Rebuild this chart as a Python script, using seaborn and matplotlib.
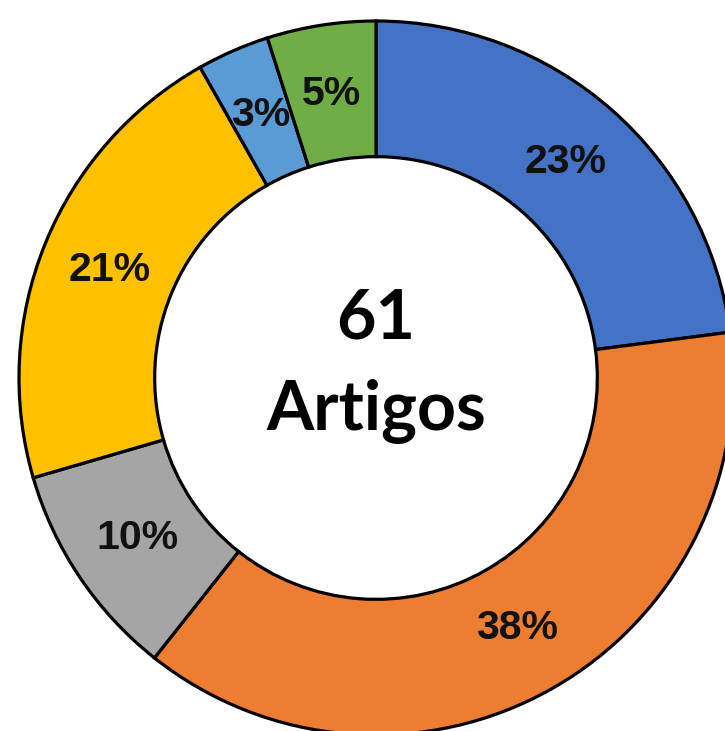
import matplotlib
matplotlib.use("Agg")
import matplotlib.pyplot as plt
import seaborn as sns

# article counts per category (61 in total), clockwise from 12 o'clock
categories = ["A", "B", "C", "D", "E", "F"]
counts = [14, 23, 6, 13, 2, 3]
colors = ["#4472C4", "#ED7D31", "#A5A5A5", "#FFC000", "#5B9BD5", "#70AD47"]
total_count = "61"
total_word = "Artigos"

sns.set_theme(style="white")
palette = sns.color_palette(colors)

W, H = 725, 731
fig = plt.figure(figsize=(W / 100, H / 100), dpi=100)
cx, cy, R = 376, 378, 357
ax = fig.add_axes([(cx - R) / W, (H - cy - R) / H, 2 * R / W, 2 * R / H])

wedges, texts, autotexts = ax.pie(
    counts, colors=palette, startangle=90, counterclock=False, radius=1,
    autopct="%1.0f%%", pctdistance=0.805,
    wedgeprops=dict(width=0.38, edgecolor="black", linewidth=2.3),
    textprops=dict(fontsize=29.5, fontweight="bold", color="#111111",
                   family="Liberation Sans"),
)
for w in wedges:
    w.set_clip_on(False)

ax.set_xlim(-1, 1)
ax.set_ylim(-1, 1)
ax.axis("off")

# centre label, two lines placed on their baselines
ax.text(0, 0.112, total_count, ha="center", va="baseline", fontsize=49,
        fontweight="bold", family="Lato", color="black")
ax.text(0, -0.146, total_word, ha="center", va="baseline", fontsize=49,
        fontweight="bold", family="Lato", color="black")

fig.savefig("out.png", dpi=100)
